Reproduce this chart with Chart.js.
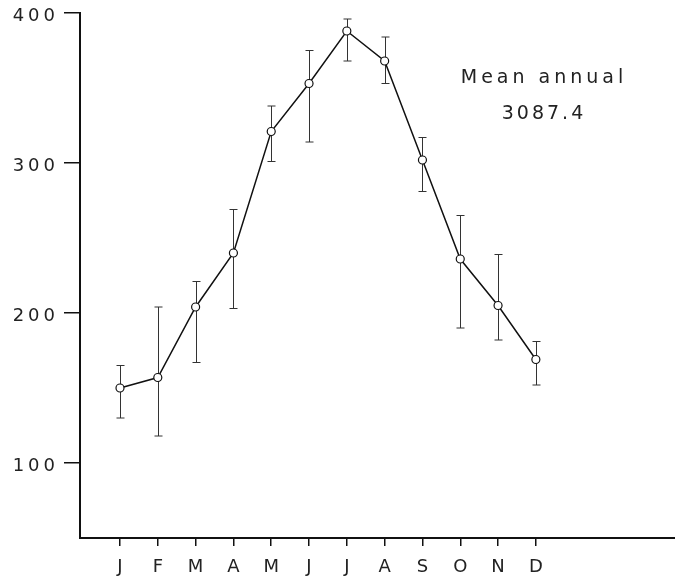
<!DOCTYPE html>
<html>
<head>
<meta charset="utf-8">
<script src="https://cdn.jsdelivr.net/npm/chart.js@4"></script>
<style>
  html, body { margin: 0; padding: 0; background: #fff; overflow: hidden; }
  #wrap { width: 680px; height: 576px; }
</style>
</head>
<body>
<div id="wrap"><canvas id="rainChart"></canvas></div>
<script>
// monthly mean and range
const months = ["J", "F", "M", "A", "M", "J", "J", "A", "S", "O", "N", "D"];
const meanValues = [150, 157, 204, 240, 321, 353, 388, 368, 302, 236, 205, 169];
const lowValues = [130, 118, 167, 203, 301, 314, 368, 353, 281, 190, 182, 152];
const highValues = [165, 204, 221, 269, 338, 375, 396, 384, 317, 265, 239, 181];
const yTicks = [100, 200, 300, 400];
const noteLines = ["Mean annual", "3087.4"];

const monthPos = months.map((m, i) => i + 1);

//error bars drawn through the chart scales
const errorBars = {
  id: "errorBars",
  beforeDatasetsDraw(chart) {
    const { ctx, scales } = chart;
    ctx.save();
    ctx.strokeStyle = "#333";
    ctx.lineWidth = 1;
    monthPos.forEach((m, i) => {
      const x = Math.round(scales.x.getPixelForValue(m)) + 0.5;
      const top = scales.y.getPixelForValue(highValues[i]);
      const bot = scales.y.getPixelForValue(lowValues[i]);
      ctx.beginPath();
      ctx.moveTo(x, top);
      ctx.lineTo(x, bot);
      ctx.moveTo(x - 4, top);
      ctx.lineTo(x + 4, top);
      ctx.moveTo(x - 4, bot);
      ctx.lineTo(x + 4, bot);
      ctx.stroke();
    });
    ctx.restore();
  },
};

const spacing = {
  id: "spacing",
  beforeDraw(chart) {
    chart.ctx.letterSpacing = "4px";
  },
};

const note = {
  id: "note",
  afterDraw(chart) {
    const ctx = chart.ctx;
    ctx.save();
    ctx.fillStyle = "#222";
    ctx.textAlign = "center";
    ctx.textBaseline = "middle";
    ctx.letterSpacing = "4px";
    ctx.font = "19px 'DejaVu Sans'";
    ctx.fillText(noteLines[0], 544, 78);
    ctx.letterSpacing = "3px";
    ctx.font = "19px 'DejaVu Sans'";
    ctx.fillText(noteLines[1], 544, 114);
    ctx.restore();
  },
};

const ctx = document.getElementById("rainChart").getContext("2d");
const rainChart = new Chart(ctx, {
  type: "line",
  data: {
    datasets: [
      {
        label: "Mean",
        data: monthPos.map((m, i) => ({ x: m, y: meanValues[i] })),
        borderColor: "#111",
        borderWidth: 1.5,
        fill: false,
        tension: 0,
        pointRadius: 4,
        pointBackgroundColor: "#fff",
        pointBorderColor: "#111",
        pointBorderWidth: 1.2,
      },
    ],
  },
  options: {
    responsive: true,
    maintainAspectRatio: false,
    animation: false,
    layout: { padding: { top: 13, right: 0, left: 0, bottom: 0 } },
    plugins: {
      legend: { display: false },
      tooltip: { enabled: false },
    },
    scales: {
      x: {
        type: "linear",
        min: -0.058,
        max: 15.675,
        afterBuildTicks(scale) {
          scale.ticks = monthPos.map((v) => ({ value: v }));
        },
        afterFit(scale) {
          scale.height = 38;
          scale.paddingLeft = 0;
          scale.paddingRight = 0;
        },
        border: { display: true, color: "#111", width: 2 },
        grid: { drawOnChartArea: false, drawTicks: true, tickLength: 8, color: "#111", lineWidth: 1.5 },
        ticks: {
          color: "#222",
          font: { family: "DejaVu Sans", size: 18 },
          padding: 11,
          labelOffset: 2,
          maxRotation: 0,
          autoSkip: false,
          callback: (v) => months[v - 1],
        },
      },
      y: {
        min: 50,
        max: 400,
        afterBuildTicks(scale) {
          scale.ticks = yTicks.map((v) => ({ value: v }));
        },
        afterFit(scale) {
          scale.width = 80;
          scale.paddingTop = 0;
          scale.paddingBottom = 0;
        },
        border: { display: true, color: "#111", width: 2 },
        grid: { drawOnChartArea: false, drawTicks: true, tickLength: 16, color: "#111", lineWidth: 1.5 },
        ticks: {
          color: "#222",
          font: { family: "DejaVu Sans", size: 18 },
          padding: 5,
          labelOffset: 3,
        },
      },
    },
  },
  plugins: [errorBars, spacing, note],
});
</script>
</body>
</html>
